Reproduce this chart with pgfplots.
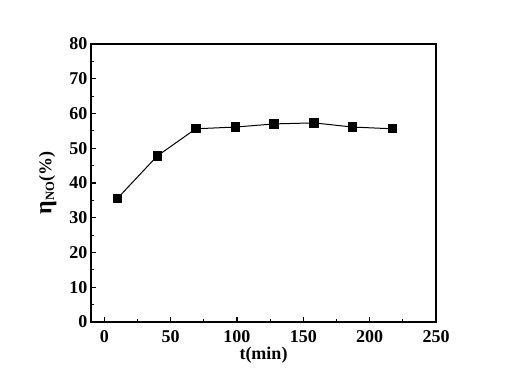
\documentclass[border=0pt]{standalone}
\usepackage{fontspec}
\setmainfont{Liberation Serif}
\usepackage{pgfplots}
\pgfplotsset{compat=1.18}
\begin{document}
\begin{tikzpicture}
\begin{axis}[name=ax,
  scale only axis, width=345pt, height=278pt,
  xmin=-10, xmax=250, ymin=0, ymax=80,
  xtick={0,50,...,250}, ytick={0,10,...,80},
  minor x tick num=1, minor y tick num=1,
  tick pos=left, tick align=inside,
  major tick length=5pt, minor tick length=3pt,
  axis line style={line width=2pt}, every tick/.style={line width=1.2pt, black},
  /pgf/number format/assume math mode=true,
  ticklabel style={font=\fontsize{18}{20}\selectfont\bfseries},
  xticklabel style={yshift=-5pt},
  xlabel={t(min)}, ylabel={{\fontsize{24}{26}\selectfont η}\textsubscript{NO}(\%)},
  label style={font=\fontsize{18}{20}\selectfont\bfseries},
  xlabel style={yshift=3pt},
  ylabel style={yshift=6pt},
]
\addplot[black, line width=1pt, mark=square*, mark size=4.2pt] coordinates {
(10,35.6) (40,47.8) (69,55.6) (99,56.1) (128,57.0) (158,57.3) (187,56.1) (217,55.6)
};
\end{axis}
\pgfresetboundingbox
\useasboundingbox ([xshift=-91pt,yshift=-65pt]ax.south west) rectangle ([xshift=72pt,yshift=44pt]ax.north east);
\end{tikzpicture}
\end{document}
